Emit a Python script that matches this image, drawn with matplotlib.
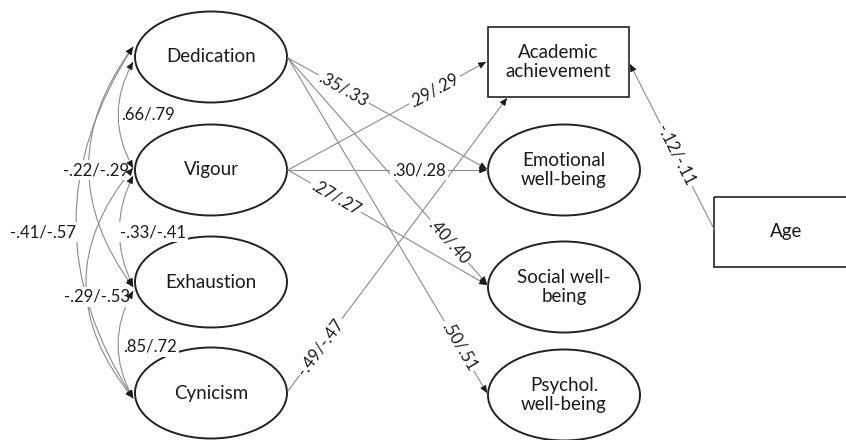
import numpy as np
import matplotlib
matplotlib.use('Agg')
import matplotlib.pyplot as plt
from matplotlib.patches import Ellipse, Rectangle, FancyArrowPatch

plt.rcParams['font.family'] = ['Lato', 'DejaVu Sans']

# data: node names and path coefficients (group 1 / group 2)
engagement = ['Dedication', 'Vigour', 'Exhaustion', 'Cynicism']
wellbeing = ['Emotional\nwell-being', 'Social well-\nbeing', 'Psychol.\nwell-being']
cov_pairs = [('Dedication', 'Vigour'), ('Vigour', 'Exhaustion'), ('Exhaustion', 'Cynicism'),
             ('Dedication', 'Exhaustion'), ('Vigour', 'Cynicism'), ('Dedication', 'Cynicism')]
cov_labels = ['.66/.79', '-.33/-.41', '.85/.72', '-.22/-.29', '-.29/-.53', '-.41/-.57']
path_from = ['Dedication', 'Dedication', 'Dedication', 'Vigour', 'Vigour', 'Vigour', 'Cynicism', 'Age']
path_to = ['Emotional\nwell-being', 'Social well-\nbeing', 'Psychol.\nwell-being',
           'Academic\nachievement', 'Emotional\nwell-being', 'Social well-\nbeing',
           'Academic\nachievement', 'Academic\nachievement']
path_labels = ['.35/.33', '.40/.40', '.50/.51', '.29/.29', '.30/.28', '.27/.27', '-.49/-.47', '-.12/-.11']

# layout (pixels, y down)
left_y = {'Dedication': 57, 'Vigour': 170, 'Exhaustion': 282, 'Cynicism': 393}
right_y = {'Emotional\nwell-being': 170, 'Social well-\nbeing': 287, 'Psychol.\nwell-being': 395}
LX, RX, EW, EH = 211, 564, 152, 91

# where paths leave / enter
start_pt = {'Dedication': (288, 58), 'Vigour': (288, 170), 'Cynicism': (288, 391), 'Age': (714, 229)}
end_pt = {('Dedication', 'Emotional\nwell-being'): (487, 169),
          ('Dedication', 'Social well-\nbeing'): (487, 284),
          ('Dedication', 'Psychol.\nwell-being'): (487, 393),
          ('Vigour', 'Academic\nachievement'): (486, 62),
          ('Vigour', 'Emotional\nwell-being'): (487, 170),
          ('Vigour', 'Social well-\nbeing'): (487, 285),
          ('Cynicism', 'Academic\nachievement'): (507, 98),
          ('Age', 'Academic\nachievement'): (630, 64)}
label_frac = [0.28, 0.81, 0.86, 0.74, 0.66, 0.24, 0.15, 0.45]

# covariance arrows: endpoints and curvature
cov_ends = [(62, 168), (176, 286), (291, 398), (47, 287), (168, 398), (47, 398)]
cov_rad = [0.28, 0.25, 0.28, 0.37, 0.41, 0.325]
cov_label_pos = [(148, 115), (153, 232), (150, 347), (96, 170), (97, 297), (43, 232)]

fig = plt.figure(figsize=(8.46, 4.4), dpi=100)
ax = fig.add_axes([0, 0, 1, 1])
ax.set_xlim(0, 846)
ax.set_ylim(440, 0)
ax.axis('off')

fs = 13.5
lab_fs = 12
txt_c = '#1a1a1a'
line_c = '#8a8a8a'
head_c = '#1a1a1a'
head = '-|>,head_length=0.45,head_width=0.2'


def dark_head(tip, direction):
    # small black arrowhead on top of the grey line
    d = np.array(direction, dtype=float)
    d /= np.hypot(*d)
    tail = np.array(tip) - 5 * d
    ax.add_patch(FancyArrowPatch(tuple(tail), tip, arrowstyle=head, mutation_scale=10,
                                 color=head_c, lw=0.6, shrinkA=0, shrinkB=0, zorder=4))


for name in engagement:
    ax.add_patch(Ellipse((LX, left_y[name]), EW, EH, fill=False, ec='#222222', lw=1.4))
    ax.text(LX, left_y[name], name, ha='center', va='center', fontsize=fs, color=txt_c)
for name in wellbeing:
    ax.add_patch(Ellipse((RX, right_y[name]), EW, EH, fill=False, ec='#222222', lw=1.4))
    ax.text(RX, right_y[name], name, ha='center', va='center', fontsize=fs, color=txt_c,
            linespacing=1.1)

ax.add_patch(Rectangle((488, 27), 141, 70, fill=False, ec='#222222', lw=1.2))
ax.text(558, 62, 'Academic\nachievement', ha='center', va='center', fontsize=fs,
        color=txt_c, linespacing=1.1)
ax.add_patch(Rectangle((714, 197), 140, 70, fill=False, ec='#222222', lw=1.2))
ax.text(786, 232, 'Age', ha='center', va='center', fontsize=fs, color=txt_c)

box = dict(facecolor='white', edgecolor='none', pad=1.5)

# directed paths
for src, dst, lab, fr in zip(path_from, path_to, path_labels, label_frac):
    p0 = start_pt[src]
    p1 = end_pt[(src, dst)]
    ax.plot([p0[0], p1[0]], [p0[1], p1[1]], color=line_c, lw=0.8)
    dark_head(p1, (p1[0] - p0[0], p1[1] - p0[1]))
    x = p0[0] + fr * (p1[0] - p0[0])
    y = p0[1] + fr * (p1[1] - p0[1])
    ang = np.degrees(np.arctan2(-(p1[1] - p0[1]), p1[0] - p0[0]))
    if ang > 90:
        ang -= 180
    if ang < -90:
        ang += 180
    ax.text(x, y, lab, ha='center', va='center', rotation=ang, rotation_mode='anchor',
            fontsize=lab_fs, color=txt_c, bbox=box, zorder=3)

# covariances
for (a, b), (ya, yb), rad in zip(cov_pairs, cov_ends, cov_rad):
    ax.add_patch(FancyArrowPatch((133, ya), (133, yb), arrowstyle='-',
                                 connectionstyle='arc3,rad=%s' % rad,
                                 color=line_c, lw=0.8, shrinkA=0, shrinkB=0))
    # control point of the arc (bulges to the left)
    cx = 133 - rad * (yb - ya)
    cy = (ya + yb) / 2
    dark_head((133, ya), (133 - cx, ya - cy))
    dark_head((133, yb), (133 - cx, yb - cy))
for lab, (x, y) in zip(cov_labels, cov_label_pos):
    ax.text(x, y, lab, ha='center', va='center', fontsize=lab_fs, color=txt_c, bbox=box,
            zorder=3)

fig.savefig('out.png', dpi=100)
